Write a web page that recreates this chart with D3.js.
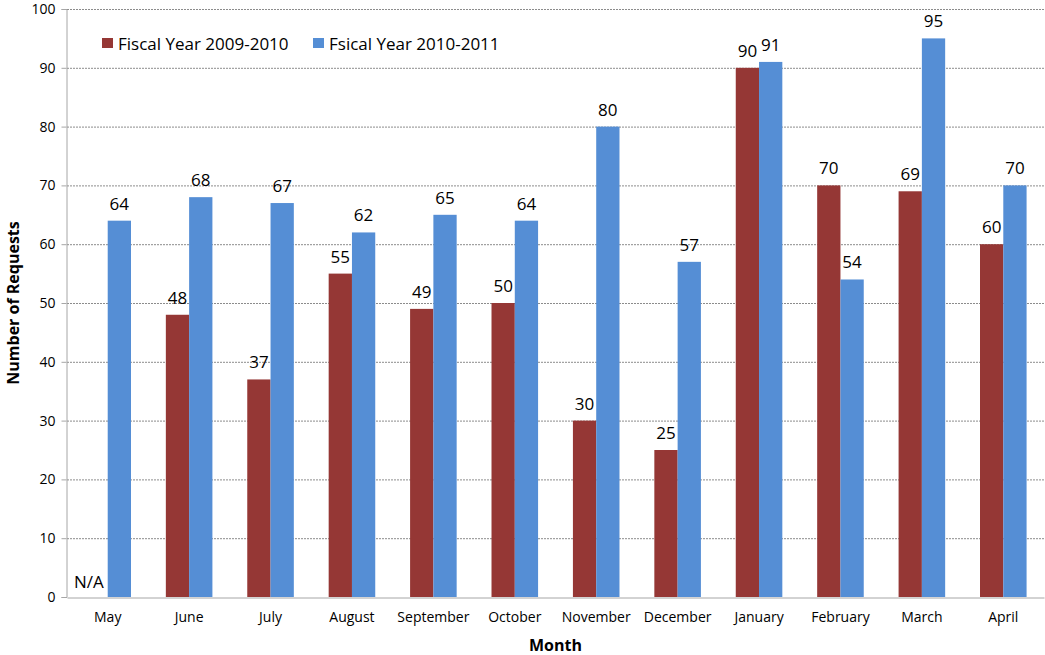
<!DOCTYPE html>
<html>
<head>
<meta charset="utf-8">
<script src="https://cdn.jsdelivr.net/npm/d3@7"></script>
<style>
  html, body { margin: 0; padding: 0; background: #fff; }
  svg { display: block; font-family: "Open Sans", "Lato", sans-serif; }
</style>
</head>
<body>
<svg id="chart" width="1045" height="655"></svg>
<script>
// Monthly request counts for two fiscal years
const months = ["May", "June", "July", "August", "September", "October", "November",
                "December", "January", "February", "March", "April"];
const seriesNames = ["Fiscal Year 2009-2010", "Fsical Year 2010-2011"];
const fy0910 = [null, 48, 37, 55, 49, 50, 30, 25, 90, 70, 69, 60];
const fy1011 = [64, 68, 67, 62, 65, 64, 80, 57, 91, 54, 95, 70];
const yTicks = [0, 10, 20, 30, 40, 50, 60, 70, 80, 90, 100];
const colors = ["#953735", "#558ed5"];

const svg = d3.select("#chart");
const plotLeft = 67, plotRight = 1044, plotTop = 9, plotBottom = 597;

const x = d3.scaleBand().domain(months).range([plotLeft, plotRight]);
const y = d3.scaleLinear().domain([0, 100]).range([plotBottom, plotTop]);
const barW = x.bandwidth() * 0.286;

// horizontal gridlines
svg.append("g").selectAll("line").data(yTicks.filter(d => d > 0)).join("line")
  .attr("x1", plotLeft).attr("x2", plotRight)
  .attr("y1", d => y(d) + 0.5).attr("y2", d => y(d) + 0.5)
  .attr("stroke", "#8c8c8c").attr("stroke-width", 1)
  .attr("stroke-dasharray", "2,1");

// y axis
const yAxis = svg.append("g").attr("transform", `translate(${plotLeft - 0.5},0)`)
  .call(d3.axisLeft(y).tickValues(yTicks).tickSize(5).tickPadding(6));
yAxis.select(".domain").attr("stroke", "#a6a6a6");
yAxis.selectAll(".tick line").attr("stroke", "#a6a6a6");
yAxis.selectAll(".tick text").attr("font-size", 14).attr("fill", "#000")
  .attr("font-family", "Open Sans, sans-serif");

// bars with value labels
const series = [fy0910, fy1011];
series.forEach((vals, si) => {
  const g = svg.append("g");
  const data = months.map((m, i) => ({ m, v: vals[i] })).filter(d => d.v != null);
  const xOff = d => x(d.m) + x.bandwidth() / 2 - barW + si * barW;
  g.selectAll("rect").data(data).join("rect")
    .attr("x", xOff)
    .attr("y", d => y(d.v))
    .attr("width", barW)
    .attr("height", d => y(0) - y(d.v))
    .attr("fill", colors[si]);
  g.selectAll("text").data(data).join("text")
    .attr("x", d => xOff(d) + barW / 2)
    .attr("y", d => y(d.v) - 11)
    .attr("text-anchor", "middle")
    .attr("font-size", 17)
    .attr("fill", "#000")
    .text(d => d.v);
});

// missing value marker for the first series
svg.append("text")
  .attr("x", x("May") + x.bandwidth() / 2 - 4)
  .attr("y", y(0) - 9)
  .attr("text-anchor", "end")
  .attr("font-size", 17)
  .text("N/A");

// x axis
const xAxis = svg.append("g").attr("transform", `translate(0,${plotBottom + 0.5})`)
  .call(d3.axisBottom(x).tickSize(0).tickPadding(15));
xAxis.select(".domain").attr("stroke", "#a6a6a6");
xAxis.selectAll(".tick text").attr("font-size", 14).attr("fill", "#000")
  .attr("font-family", "Open Sans, sans-serif");

// axis titles
svg.append("text")
  .attr("x", (plotLeft + plotRight) / 2).attr("y", 651)
  .attr("text-anchor", "middle").attr("font-size", 16).attr("font-weight", "bold")
  .text("Month");
svg.append("text")
  .attr("transform", `translate(19,${(plotTop + plotBottom) / 2}) rotate(-90)`)
  .attr("text-anchor", "middle").attr("font-size", 16).attr("font-weight", "bold")
  .text("Number of Requests");

// legend
const legendX = [102, 313];
seriesNames.forEach((name, i) => {
  svg.append("rect").attr("x", legendX[i]).attr("y", 38).attr("width", 11).attr("height", 10)
    .attr("fill", colors[i]);
  svg.append("text").attr("x", legendX[i] + 16).attr("y", 49.5)
    .attr("font-size", 17).text(name);
});
</script>
</body>
</html>
